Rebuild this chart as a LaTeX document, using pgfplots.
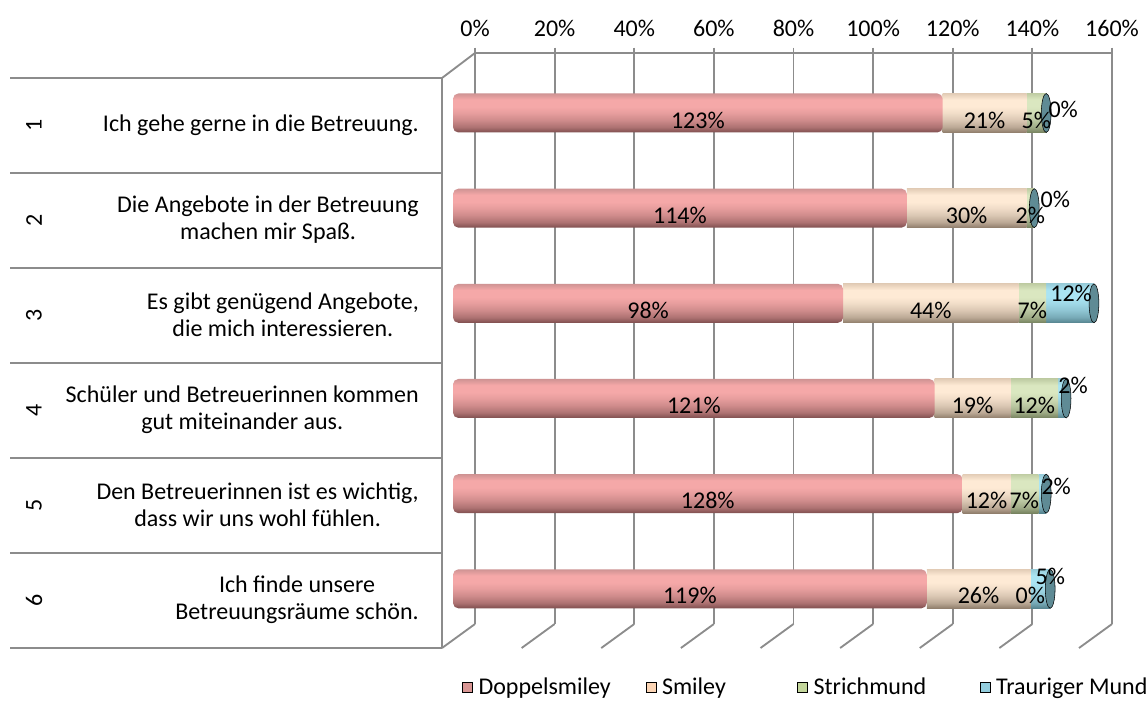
\documentclass[border=0pt]{standalone}
\usepackage{pgfplots}
\pgfplotsset{compat=1.18}
\usepackage{pgfplotstable}
\usepackage{fontspec}
\setmainfont{Carlito}

\definecolor{gridc}{HTML}{8C8C8C}
\definecolor{legPink}{HTML}{D99694}
\definecolor{legPeach}{HTML}{FCD5B5}
\definecolor{legGreen}{HTML}{C3D69B}
\definecolor{legBlue}{HTML}{93CDDD}
\definecolor{pinkT}{HTML}{CF9393}
\definecolor{pinkM}{HTML}{F5A8A8}
\definecolor{pinkB}{HTML}{7E4E4E}
\definecolor{peachT}{HTML}{E3CDB7}
\definecolor{peachM}{HTML}{FEEAD5}
\definecolor{peachB}{HTML}{8F7D6B}
\definecolor{greenT}{HTML}{C0CDA4}
\definecolor{greenM}{HTML}{DAE7C0}
\definecolor{greenB}{HTML}{76825F}
\definecolor{blueT}{HTML}{98CCD9}
\definecolor{blueM}{HTML}{AAE4F3}
\definecolor{blueB}{HTML}{55838E}
\definecolor{capc}{HTML}{5F8B95}

% cylinder-like vertical shading: the path spans 25bp (bottom) .. 75bp (top)
\newcommand\cylshade[4]{%
  \pgfdeclareverticalshading{#1}{100bp}{%
    color(0bp)=(#4); color(25bp)=(#4); color(32bp)=(#3!40!#4);
    color(41bp)=(#3!68!#4); color(50bp)=(#3!88!#4); color(58bp)=(#3);
    color(67bp)=(#3); color(75bp)=(#2); color(100bp)=(#2)}}
\cylshade{pinkcyl}{pinkT}{pinkM}{pinkB}
\cylshade{peachcyl}{peachT}{peachM}{peachB}
\cylshade{greencyl}{greenT}{greenM}{greenB}
\cylshade{bluecyl}{blueT}{blueM}{blueB}

% y: category, d: Doppelsmiley, s: Smiley, n: Strichmund, b: Trauriger Mund
% dx, up: label offsets (px) of the Trauriger-Mund labels
\pgfplotstableread{
y d s n b dx up
1 123 21 5 0 17 4
2 114 30 2 0 21 9
3 98 44 7 12 1 10
4 121 19 12 2 11 13
5 128 12 7 2 14 7
6 119 26 0 5 10 12
}\data

\pgfplotsset{
  geom/.style={anchor=south west, scale only axis, width=477.75pt, height=428.25pt,
    xmin=0, xmax=160, ymin=0.5, ymax=6.5, y dir=reverse, clip=false},
}

\begin{document}
\begin{tikzpicture}[font=\fontsize{18}{20}\selectfont]
\path[use as bounding box] (0,0) rectangle (861pt,-526.5pt);

% left frame (category table)
\begin{scope}[x=0.75pt, y=-0.75pt]
  \foreach \yy in {78,173,268,363,458,553,648}
    \draw[gridc, line width=1.4pt] (10,\yy) -- (442,\yy);
  \draw[gridc, line width=1.4pt] (442,78) -- (442,648);
  \foreach \n/\yy in {1/125.5,2/220.5,3/315.5,4/410.5,5/505.5,6/600.5}
    \node[rotate=90] at (34,\yy) {\n};
  \begin{scope}[every node/.style={anchor=east, align=center, inner sep=0pt}]
  \node at (419,125.5) {Ich gehe gerne in die Betreuung.};
  \node at (419,219.5) {Die Angebote in der Betreuung\\machen mir Spaß.};
  \node at (419,314.5) {Es gibt genügend Angebote,\\die mich interessieren.};
  \node at (419,409.5) {Schüler und Betreuerinnen kommen\\gut miteinander aus.};
  \node at (419,504.5) {Den Betreuerinnen ist es wichtig,\\dass wir uns wohl fühlen.};
  \node at (419,599.5) {Ich finde unsere\\Betreuungsräume schön.};
  \end{scope}
\end{scope}

% back wall with grid and top axis
\begin{axis}[geom, at={(356.25pt,-468pt)},
  axis x line*=top, axis y line=none,
  xtick={0,20,40,60,80,100,120,140,160},
  xticklabels={0\%,20\%,40\%,60\%,80\%,100\%,120\%,140\%,160\%},
  ytick=\empty,
  tick align=outside, major tick length=4pt,
  xmajorgrids, grid style={gridc, line width=1.4pt},
  axis line style={gridc, line width=1.4pt},
  tick style={gridc, line width=1.4pt},
  xticklabel style={font=\fontsize{18}{20}\selectfont, yshift=4.5pt},
]
\pgfplotsinvokeforeach{0,20,40,60,80,100,120,140,160}{
  \draw[gridc, line width=1.4pt] (axis cs:#1,6.5) -- ++(-24.75pt,-18pt);
}
\draw[gridc, line width=1.4pt] (axis cs:0,0.5) -- ++(-24.75pt,-18.75pt);
\end{axis}

% bars: one axis per category so that every bar carries its own cylinder shading
\foreach \k in {1,...,6} {
\begin{axis}[geom, at={(339.75pt,-477.3pt)},
  hide axis, xbar stacked, bar width=29.25pt,
  restrict y to domain=\k:\k]
\addplot[draw=none, shade, shading=pinkcyl, rounded corners=4pt]
  table[x=d, y=y] {\data};
\addplot[draw=none, shade, shading=peachcyl]
  table[x=s, y=y] {\data};
\addplot[draw=none, shade, shading=greencyl]
  table[x expr={max(\thisrow{n},0.05)}, y=y] {\data};
\addplot[draw=none, shade, shading=bluecyl]
  table[x expr={max(\thisrow{b},0.05)}, y=y] {\data};
\end{axis}
}

% end caps, value labels and legend
\begin{axis}[geom, at={(339.75pt,-477.3pt)}, hide axis,
  nodes near coords={\pgfmathprintnumber[assume math mode=true]{\pgfplotspointmeta}\%},
  nodes near coords style={text=black, anchor=center, font=\fontsize{18}{20}\selectfont},
  legend image code/.code={\fill[#1] (0pt,-3.75pt) rectangle (7.5pt,3.75pt);},
  legend columns=4,
  legend style={at={(0.0141,-0.0886)}, anchor=west, draw=none, fill=none,
    inner sep=0pt, outer sep=0pt, column sep=0pt, row sep=0pt,
    nodes={inner sep=0pt, anchor=west}, font=\fontsize{18}{20}\selectfont},
]
\addplot[forget plot, only marks, mark=*, mark size=14.6pt,
  mark options={xscale=0.25, fill=capc, draw=none}, nodes near coords=]
  table[x expr=\thisrow{d}+\thisrow{s}+\thisrow{n}+\thisrow{b}, y=y] {\data};
\addplot[forget plot, only marks, mark=none, point meta=explicit, nodes near coords style={yshift=-5.25pt}]
  table[x expr=\thisrow{d}/2, y=y, meta=d] {\data};
\addplot[forget plot, only marks, mark=none, point meta=explicit, nodes near coords style={yshift=-5.25pt}]
  table[x expr=\thisrow{d}+\thisrow{s}/2, y=y, meta=s] {\data};
\addplot[forget plot, only marks, mark=none, point meta=explicit, nodes near coords style={yshift=-5.25pt}]
  table[x expr=\thisrow{d}+\thisrow{s}+\thisrow{n}/2, y=y, meta=n] {\data};
\addplot[forget plot, only marks, mark=none, point meta=explicit,
  visualization depends on={\thisrow{dx}\as\dxv},
  visualization depends on={\thisrow{up}\as\upv},
  nodes near coords style={xshift={\dxv*0.75pt}, yshift={\upv*0.75pt}}]
  table[x expr=\thisrow{d}+\thisrow{s}+\thisrow{n}+\thisrow{b}/2, y=y, meta=b] {\data};
\addlegendimage{fill=legPink}
\addlegendimage{fill=legPeach}
\addlegendimage{fill=legGreen}
\addlegendimage{fill=legBlue}
\legend{\makebox[129.75pt][l]{\hspace{4.5pt}Doppelsmiley},
        \makebox[105.75pt][l]{\hspace{4.5pt}Smiley},
        \makebox[129pt][l]{\hspace{4.5pt}Strichmund},
        \hspace{4.5pt}Trauriger Mund}
\end{axis}
\end{tikzpicture}
\end{document}
